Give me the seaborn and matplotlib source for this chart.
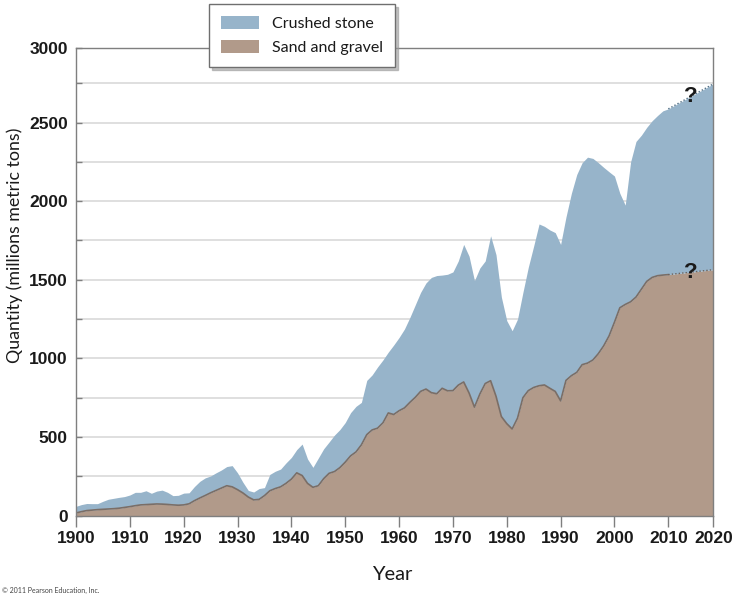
import numpy as np
import pandas as pd
import matplotlib
matplotlib.use("Agg")
import matplotlib.pyplot as plt
from matplotlib import font_manager as fm
from matplotlib.patches import Patch
import seaborn as sns

# ---------------- data ----------------
years = list(range(1900, 2011))
sand_gravel = [17, 25, 32, 35, 38, 40, 42, 44, 47, 52,
               57, 63, 68, 70, 72, 74, 73, 71, 68, 66,
               68, 75, 95, 112, 128, 145, 160, 175, 190, 183,
               165, 144, 118, 100, 103, 127, 158, 172, 183, 205,
               232, 272, 255, 205, 180, 190, 235, 269, 280, 305,
               340, 380, 405, 450, 515, 545, 556, 590, 653, 643,
               667, 685, 720, 752, 790, 805, 782, 775, 810, 794,
               795, 830, 850, 780, 690, 773, 840, 858, 760, 630,
               585, 551, 620, 750, 795, 815, 826, 831, 810, 790,
               730, 860, 890, 911, 960, 970, 990, 1030, 1080, 1143,
               1230, 1322, 1343, 1360, 1390, 1440, 1490, 1515, 1526, 1530,
               1533]
crushed_stone = [42, 45, 45, 41, 38, 51, 62, 66, 69, 69,
                 74, 85, 80, 88, 70, 82, 89, 77, 59, 63,
                 75, 70, 90, 106, 112, 107, 112, 115, 122, 135,
                 107, 68, 42, 50, 69, 51, 104, 110, 113, 130,
                 138, 148, 200, 155, 127, 176, 190, 199, 232, 242,
                 252, 275, 290, 270, 345, 350, 389, 400, 387, 442,
                 466, 502, 540, 588, 630, 675, 733, 752, 720, 741,
                 755, 790, 875, 870, 805, 802, 780, 922, 900, 760,
                 655, 625, 630, 670, 785, 900, 1029, 1009, 1007, 1010,
                 995, 1040, 1160, 1259, 1285, 1310, 1282, 1215, 1135, 1044,
                 930, 728, 632, 890, 990, 980, 980, 997, 1019, 1045,
                 1054]
# projected (dotted) segment
proj_years = [2010, 2020]
proj_sand_gravel = [1533, 1564]
proj_crushed_stone = [1054, 1182]

series_names = ["Crushed stone", "Sand and gravel"]
x_ticks = list(range(1900, 2021, 10))
y_ticks = [0, 500, 1000, 1500, 2000, 2500, 3000]
x_label = "Year"
y_label = "Quantity (millions metric tons)"
credit = "\u00a9 2011 Pearson Education, Inc."

# ---------------- style ----------------
sns.set_theme(style="white")
names = {f.name for f in fm.fontManager.ttflist}
narrow = "Liberation Sans Narrow" if "Liberation Sans Narrow" in names else None
tick_family = [narrow, "DejaVu Sans"] if narrow else ["Liberation Sans", "DejaVu Sans"]
tick_size = 15 if narrow else 12.5
text_family = ["Lato", "DejaVu Sans"]
plt.rcParams["font.family"] = text_family

blue = "#97b4ca"
brown = "#b19a8a"
edge = "#7a6e67"
spine_c = "#7f7f7f"
grid_c = "#d6d6d6"

df = pd.DataFrame({"year": years, "sand": sand_gravel, "crushed": crushed_stone})
df["total"] = df["sand"] + df["crushed"]
pdf = pd.DataFrame({"year": proj_years, "sand": proj_sand_gravel, "crushed": proj_crushed_stone})
pdf["total"] = pdf["sand"] + pdf["crushed"]
full = pd.concat([df, pdf.iloc[1:]], ignore_index=True)

fig = plt.figure(figsize=(7.36, 6), dpi=100)
ax = fig.add_axes([76 / 736, (600 - 515.6) / 600, (713.3 - 76) / 736, (515.6 - 48.3) / 600])

# the reference frame compresses its last decade and its top band
kx, ky = 0.8357, 0.89
fx = lambda v: np.where(v <= 2010, v, 2010 + (v - 2010) * kx)
ix = lambda v: np.where(v <= 2010, v, 2010 + (v - 2010) / kx)
fy = lambda v: np.where(v <= 2750, v, 2750 + (v - 2750) * ky)
iy = lambda v: np.where(v <= 2750, v, 2750 + (v - 2750) / ky)
ax.set_xscale("function", functions=(fx, ix))
ax.set_yscale("function", functions=(fy, iy))

ax.fill_between(full["year"], 0, full["sand"], color=brown, lw=0, zorder=2)
ax.fill_between(full["year"], full["sand"], full["total"], color=blue, lw=0, zorder=2)
sns.lineplot(data=df, x="year", y="sand", color=edge, lw=1.2, ax=ax, zorder=3)
sns.lineplot(data=pdf, x="year", y="sand", color="#6b625c", lw=1.0, ls=(0, (1, 1.5)), ax=ax, zorder=3)
sns.lineplot(data=pdf, x="year", y="total", color="#4f6e84", lw=1.0, ls=(0, (1, 1.5)), ax=ax, zorder=3)

# question marks on the projection
qx = 2015
for ser in ["total", "sand"]:
    qy = np.interp(qx, pdf["year"], pdf[ser])
    ax.text(qx, qy, "?", ha="center", va="center", fontsize=16, fontweight="bold",
            family=["Liberation Sans", "DejaVu Sans"], color="#1a1a1a", zorder=4)

ax.set_xlim(1900, 2020)
ax.set_ylim(0, 3000)
ax.set_xticks(x_ticks)
ax.set_xticklabels([str(t) for t in x_ticks], family=tick_family, fontsize=tick_size,
                   fontweight="bold", color="#1a1a1a")
ax.set_yticks(y_ticks)
ax.set_yticks(np.arange(250, 3000, 500), minor=True)
ax.set_yticklabels([str(t) for t in y_ticks], family=tick_family, fontsize=tick_size,
                   fontweight="bold", color="#1a1a1a")
ax.xaxis.set_minor_locator(matplotlib.ticker.NullLocator())
ax.tick_params(axis="x", which="major", direction="out", length=8, width=1,
               color=spine_c, pad=3, bottom=True)
ax.tick_params(axis="y", which="both", direction="in", length=4, width=1,
               color=spine_c, pad=6, left=True)
ax.yaxis.grid(True, which="both", color=grid_c, lw=1.1)
ax.xaxis.grid(False)
ax.set_axisbelow(True)
for s in ax.spines.values():
    s.set_visible(True)
    s.set_color(spine_c)
    s.set_linewidth(1.0)
    s.set_zorder(5)
ax.set_xlabel("")
ax.set_ylabel("")

fig.text(392 / 736, 1 - 575 / 600, x_label, ha="center", va="center", fontsize=14.5, color="#1a1a1a")
fig.text(14.5 / 736, 1 - 245 / 600, y_label, ha="center", va="center", rotation=90,
         fontsize=12.8, color="#1a1a1a")
fig.text(2 / 736, 1 - 590 / 600, credit, ha="left", va="center", fontsize=5, color="#444444")

handles = [Patch(facecolor=blue, edgecolor="none"), Patch(facecolor=brown, edgecolor="none")]
leg = ax.legend(handles, series_names, loc="upper left",
                bbox_to_anchor=(209 / 736, 1 - 4 / 600), bbox_transform=fig.transFigure,
                borderaxespad=0, fancybox=False, shadow={"color": "#9a9a9a", "alpha": 0.6},
                frameon=True, fontsize=11.5, handlelength=2.4, handleheight=0.9,
                handletextpad=0.8, labelspacing=0.55, borderpad=0.75)
leg.get_frame().set_edgecolor("#6f6f6f")
leg.get_frame().set_linewidth(1.0)
leg.set_zorder(10)
for t in leg.get_texts():
    t.set_color("#1a1a1a")

fig.savefig("out.png", dpi=100)
